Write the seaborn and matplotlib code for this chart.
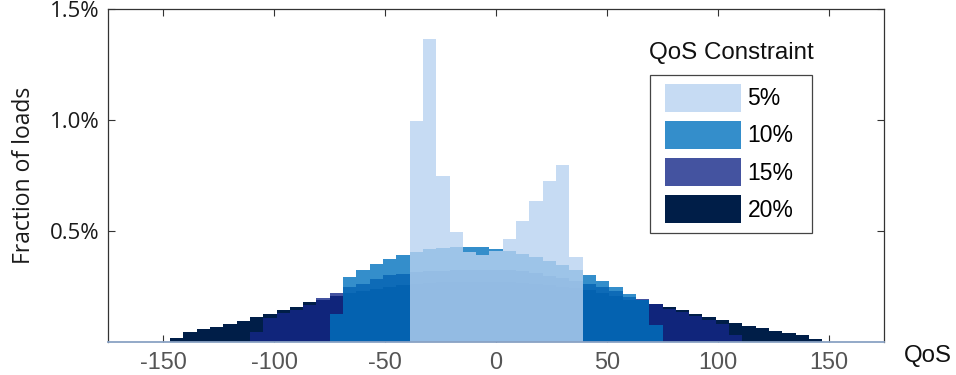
import numpy as np
import pandas as pd
import matplotlib
matplotlib.use("Agg")
import matplotlib.pyplot as plt
from matplotlib.patches import Patch, Rectangle
import seaborn as sns

# ---- data (percent of loads per 6-unit QoS bin) ----
bin_width = 6
centers_20 = list(range(-144, 145, 6))
q20 = [0.018, 0.045, 0.059, 0.068, 0.081, 0.095, 0.113, 0.126, 0.144, 0.158,
       0.177, 0.190, 0.204, 0.219, 0.227, 0.240, 0.249, 0.255,
       0.260, 0.265, 0.268, 0.270, 0.271, 0.271, 0.270, 0.268, 0.265, 0.260,
       0.254, 0.248, 0.241,
       0.234, 0.222, 0.204, 0.190, 0.186, 0.168, 0.158, 0.144, 0.126, 0.113,
       0.099, 0.086, 0.072, 0.063, 0.050, 0.041, 0.032, 0.014]
centers_15 = list(range(-108, 109, 6))
q15 = [0.042, 0.108, 0.128, 0.144, 0.165, 0.198, 0.222, 0.246, 0.261, 0.282,
       0.299, 0.306,
       0.314, 0.318, 0.320, 0.322, 0.324, 0.324, 0.324, 0.322, 0.318, 0.310,
       0.297, 0.287, 0.272,
       0.260, 0.246, 0.229, 0.200, 0.194, 0.171, 0.149, 0.132, 0.114, 0.096,
       0.081, 0.031]
centers_10 = list(range(-72, 73, 6))
q10 = [0.127, 0.293, 0.324, 0.350, 0.374, 0.392,
       0.404, 0.418, 0.425, 0.429, 0.429, 0.427, 0.418, 0.411, 0.396, 0.384,
       0.366, 0.347, 0.324,
       0.299, 0.272, 0.246, 0.216, 0.188, 0.077]
centers_5 = list(range(-36, 37, 6))
q5 = [0.995, 1.365, 0.749, 0.494, 0.407, 0.389, 0.411, 0.465, 0.544, 0.634,
      0.724, 0.797, 0.382]

labels = ["5%", "10%", "15%", "20%"]
colors = ["#b8d2f0", "#0172be", "#152888", "#001e48"]
alphas = [0.8, 0.8, 0.8, 1.0]
xticks = [-150, -100, -50, 0, 50, 100, 150]
yticks = [0.5, 1.0, 1.5]
ytick_labels = ["0.5%", "1.0%", "1.5%"]

series = [(centers_5, q5), (centers_10, q10), (centers_15, q15), (centers_20, q20)]

fig = plt.figure(figsize=(9.56, 3.75), dpi=100)
ax = fig.add_axes([108 / 956, 1 - 341.7 / 375, (884.3 - 108) / 956, (341.7 - 9.3) / 375])

# draw 20% first, 5% last
for i in [3, 2, 1, 0]:
    c, v = series[i]
    df = pd.DataFrame({"qos": np.asarray(c, float), "frac": np.asarray(v, float)})
    lo = float(df["qos"].iloc[0]) - bin_width / 2
    hi = float(df["qos"].iloc[-1]) + bin_width / 2
    sns.histplot(data=df, x="qos", weights="frac", binwidth=bin_width,
                 binrange=(lo, hi), stat="count",
                 color=colors[i], alpha=alphas[i], linewidth=0,
                 edgecolor="none", ax=ax)

ax.set_xlim(-175, 175)
ax.set_ylim(0, 1.5)
ax.set_axisbelow(True)

ax.set_xticks(xticks)
ax.set_xticklabels([str(t) for t in xticks],
                   fontsize=16.8, color="#555555", family="Liberation Sans")
ax.set_yticks(yticks)
ax.set_yticklabels(ytick_labels, fontsize=16, color="#1a1a1a", family="Open Sans")
ax.tick_params(axis="x", direction="in", length=5, width=0.8, top=True,
               bottom=True, pad=7, color="#333333")
ax.tick_params(axis="y", direction="in", length=5, width=0.8, left=True,
               right=True, pad=6, color="#333333")

for s in ["left", "top", "right"]:
    ax.spines[s].set_color("#333333")
    ax.spines[s].set_linewidth(0.9)
ax.spines["bottom"].set_color("#8aa2c4")
ax.spines["bottom"].set_linewidth(1.3)

ax.set_xlabel("")
ax.set_ylabel("Fraction of loads", fontsize=16.5, family="Open Sans",
              color="#1a1a1a", labelpad=10)
ax.text(1.056, -0.043, "QoS", transform=ax.transAxes, ha="center", va="center",
        fontsize=17.3, family="Liberation Sans", color="#111111")

# legend frame (wider on the right, as in the original)
ax.add_patch(Rectangle((0.6987, 0.3279), 0.2079, 0.4735, transform=ax.transAxes,
                       facecolor="white", edgecolor="#444444", linewidth=0.9,
                       zorder=4))
handles = [Patch(facecolor=colors[i], alpha=alphas[i], edgecolor="none")
           for i in range(4)]
leg = ax.legend(handles, labels, loc="upper left", bbox_to_anchor=(0.7063, 0.8014),
                frameon=False, borderpad=0.38,
                handlelength=3.3, handleheight=1.47, labelspacing=0.42,
                handletextpad=0.3, borderaxespad=0,
                prop={"family": "Liberation Sans", "size": 16.5})
leg.set_zorder(5)
ax.text(0.8025, 0.870, "QoS Constraint", transform=ax.transAxes, ha="center",
        va="center", fontsize=17.4, family="Liberation Sans", color="#111111")

fig.savefig("out.png", dpi=100)
